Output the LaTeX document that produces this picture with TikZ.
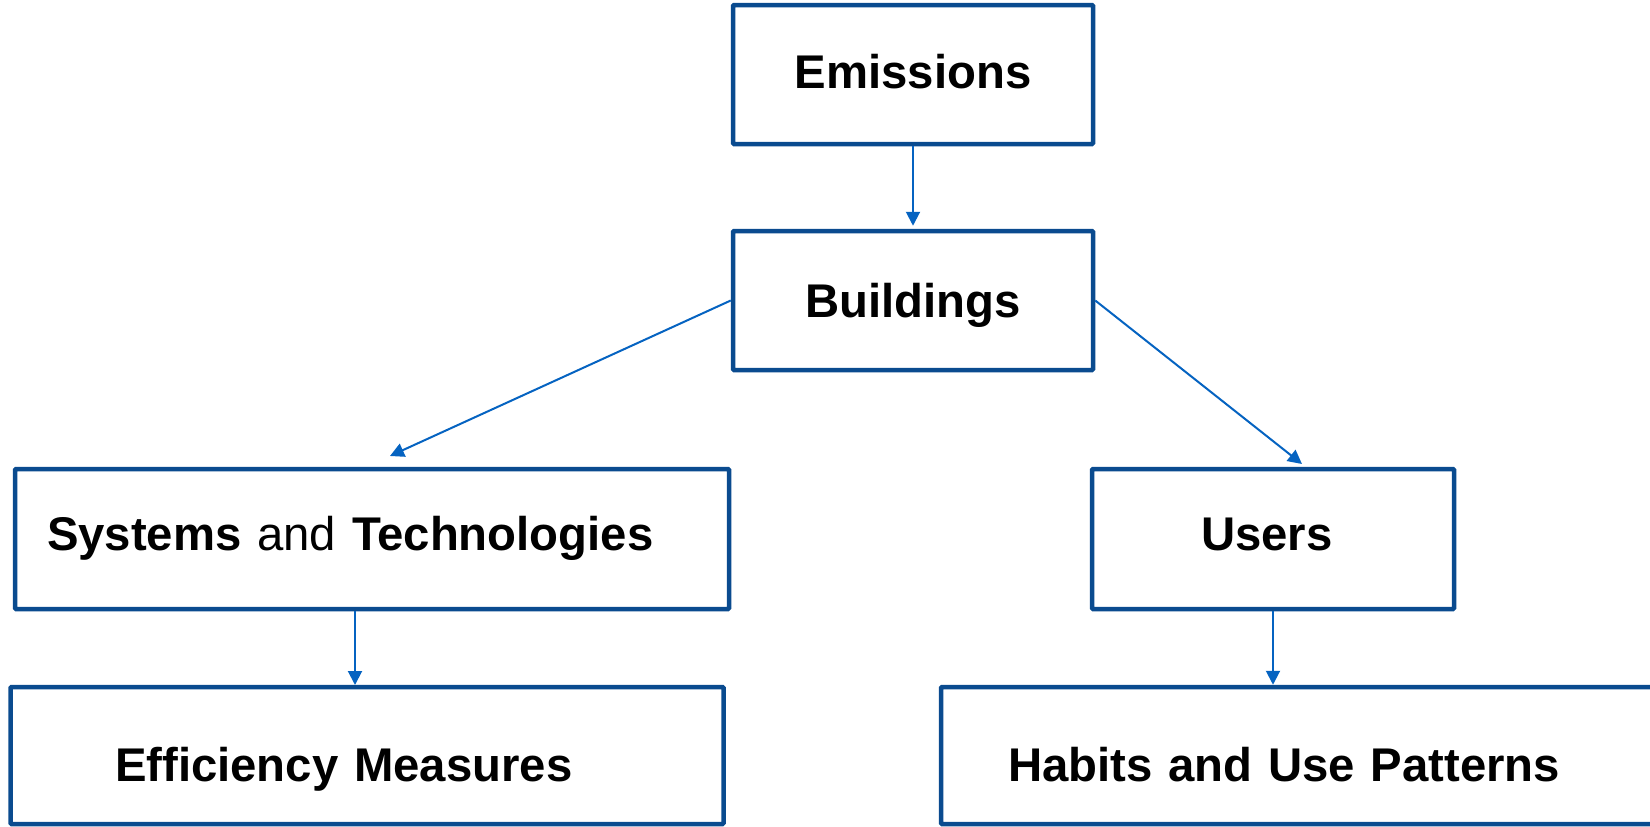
\documentclass[tikz,border=0pt]{standalone}
\usepackage{fontspec}
\setmainfont{Liberation Sans}
\usetikzlibrary{arrows.meta}

\definecolor{boxblue}{HTML}{0A4B8F}
\definecolor{linkblue}{HTML}{0563C1}

\tikzset{
 box/.style={draw=boxblue, line width=4.5pt, rectangle, rounded corners=1pt,
  font=\fontsize{47.3}{56}\selectfont\bfseries,
  text height=34pt, text depth=0pt, inner sep=0pt},
 link/.style={linkblue, line width=2pt, -{Triangle[length=14pt,width=14pt]}}
}

\begin{document}
\begin{tikzpicture}[x=1pt,y=-1pt]
\useasboundingbox (0,0) rectangle (1650,827);

% top of the chain
\node[box, minimum width=360pt, minimum height=139pt, text depth=6pt]
 (Emissions) at (913,74.5) {Emissions};
\node[box, minimum width=360pt, minimum height=139pt]
 (Buildings) at (913,300.5) {Buildings};

% left branch
\node[box, minimum width=714pt, minimum height=140pt, text depth=12pt,
 text width=650pt, align=left]
 (Systems) at (372,539) {Systems \mdseries and \bfseries Technologies};
\node[box, minimum width=713pt, minimum height=137pt, text height=51pt,
 text width=504pt, align=left]
 (Efficiency) at (367,755.5) {Efficiency Measures};

% right branch
\node[box, minimum width=362pt, minimum height=140pt, text depth=12pt,
 text width=144pt, align=left]
 (Users) at (1273,539) {Users};
\node[box, minimum width=721pt, minimum height=137pt, text height=51pt,
 text width=587pt, align=left]
 (Habits) at (1301.5,755.5) {Habits and Use Patterns};

% arrows
\coordinate (sysin) at (390,456);
\coordinate (usrin) at (1302,464);
\coordinate (effin) at (355,685);
\draw[link, shorten >=3pt] (Emissions) -- (Buildings);
\draw[link] (Buildings.west) -- (sysin);
\draw[link] (Buildings.east) -- (usrin);
\draw[link] (Systems.south -| effin) -- (effin);
\draw[link] (Users) -- (Habits.north -| Users);

\end{tikzpicture}
\end{document}
